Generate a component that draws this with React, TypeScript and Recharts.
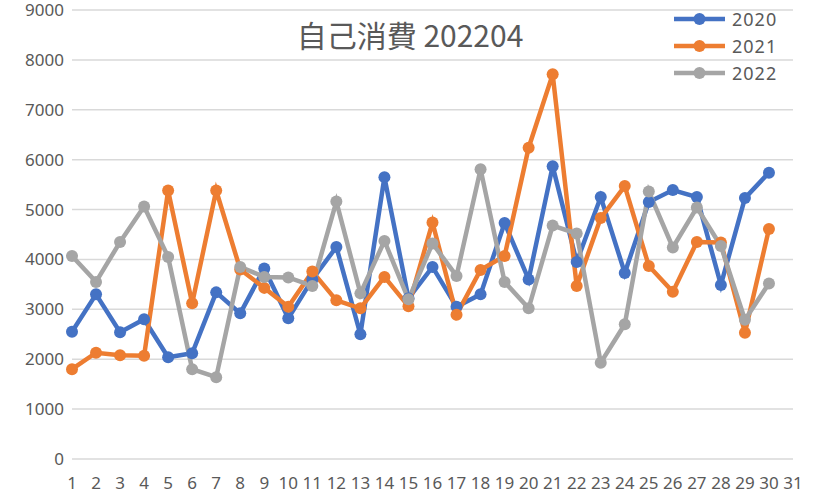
import React from 'react';
import { LineChart, Line, XAxis, YAxis, CartesianGrid } from 'recharts';

const days = ['1', '2', '3', '4', '5', '6', '7', '8', '9', '10', '11', '12', '13', '14', '15', '16', '17', '18', '19', '20', '21', '22', '23', '24', '25', '26', '27', '28', '29', '30', '31'];

const y2020 = [2550, 3300, 2540, 2800, 2040, 2120, 3340, 2920, 3820, 2820, 3600, 4250, 2500, 5650, 3220, 3850, 3050, 3300, 4730, 3600, 5870, 3950, 5250, 3730, 5150, 5390, 5250, 3490, 5230, 5740];
const y2021 = [1800, 2130, 2080, 2070, 5380, 3120, 5380, 3800, 3430, 3050, 3760, 3180, 3020, 3650, 3060, 4740, 2890, 3790, 4070, 6240, 7710, 3470, 4830, 5470, 3870, 3350, 4350, 4340, 2530, 4610];
const y2022 = [4070, 3550, 4350, 5060, 4050, 1800, 1640, 3850, 3650, 3640, 3470, 5160, 3320, 4370, 3200, 4320, 3670, 5810, 3550, 3020, 4680, 4520, 1930, 2700, 5360, 4240, 5040, 4270, 2790, 3520];

const yTicks = [0, 1000, 2000, 3000, 4000, 5000, 6000, 7000, 8000, 9000];

const series = [
  { key: 'y2020', name: '2020', color: '#4472C4' },
  { key: 'y2021', name: '2021', color: '#ED7D31' },
  { key: 'y2022', name: '2022', color: '#A5A5A5' },
];

const data = days.map((d, i) => ({
  day: d,
  y2020: y2020[i],
  y2021: y2021[i],
  y2022: y2022[i],
}));

const textColor = '#595959';
const font = '"Noto Sans", "Noto Sans CJK JP", sans-serif';

const LegendBox = () => (
  <div style={{ position: 'absolute', left: 674, top: 5, fontFamily: font, zIndex: 1 }}>
    {series.map((s) => (
      <div key={s.key} style={{ display: 'flex', alignItems: 'center', height: 27 }}>
        <svg width={52} height={14}>
          <line x1={0} y1={7} x2={51} y2={7} stroke={s.color} strokeWidth={4.5} />
          <circle cx={25.5} cy={7} r={6} fill={s.color} />
        </svg>
        <span style={{ marginLeft: 6, fontSize: 18, color: textColor, letterSpacing: 1 }}>{s.name}</span>
      </div>
    ))}
  </div>
);

export default function App() {
  return (
    <div style={{ position: 'absolute', left: 0, top: 0, width: 813, height: 494, background: '#fff' }}>
      <div
        style={{
          position: 'absolute',
          left: 0,
          width: 820,
          top: 14,
          textAlign: 'center',
          fontFamily: '"Noto Sans CJK JP", sans-serif',
          fontSize: 30,
          color: textColor,
          lineHeight: '40px',
          zIndex: 1,
        }}
      >
        自己消費 202204
      </div>
      <LegendBox />
      <LineChart width={813} height={494} data={data} margin={{ top: 10, right: 20, bottom: 5, left: 0 }}>
        <CartesianGrid vertical={false} stroke="#d9d9d9" strokeWidth={1.5} />
        <XAxis
          dataKey="day"
          interval={0}
          axisLine={false}
          tickLine={false}
          tickMargin={12}
          height={30}
          tick={{ fill: textColor, fontSize: 17, fontFamily: font }}
        />
        <YAxis
          width={72}
          domain={[0, 9000]}
          ticks={yTicks}
          axisLine={false}
          tickLine={false}
          tick={{ fill: textColor, fontSize: 17, fontFamily: font }}
        />
        {series.map((s) => (
          <Line
            key={s.key}
            dataKey={s.key}
            name={s.name}
            stroke={s.color}
            strokeWidth={4.5}
            dot={{ r: 6, fill: s.color, stroke: s.color, strokeWidth: 0 }}
            activeDot={false}
            isAnimationActive={false}
          />
        ))}
      </LineChart>
    </div>
  );
}
